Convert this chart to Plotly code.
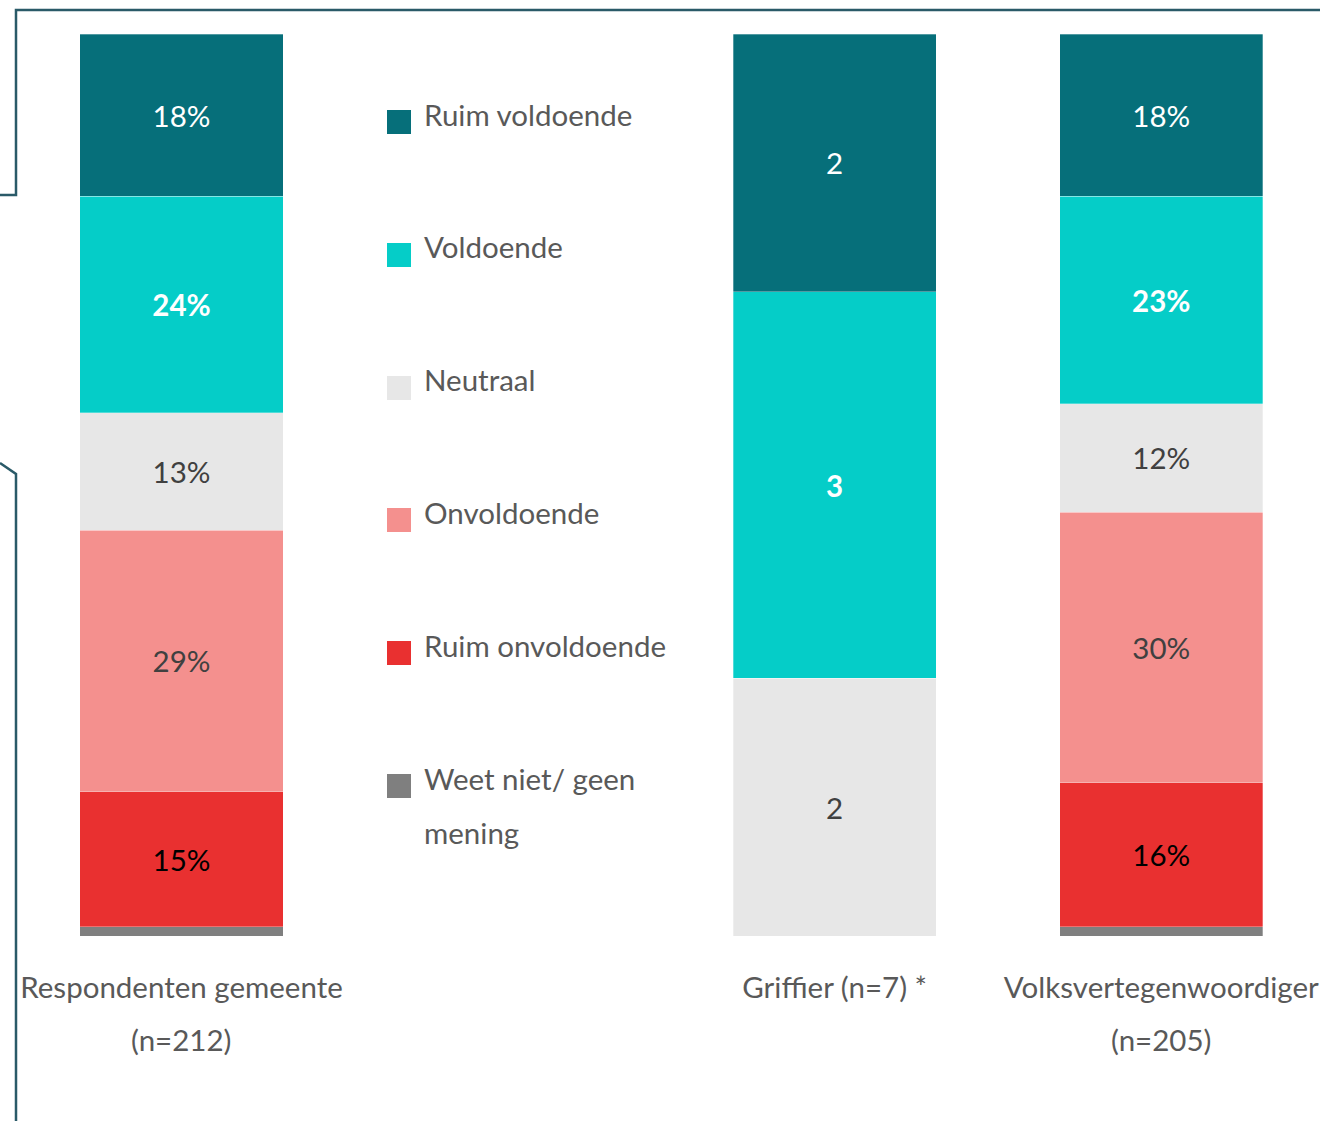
import plotly.graph_objects as go

# Respondent groups (x positions 0, 2, 3; slot 1 holds the legend)
groups = ["Respondenten gemeente", "Griffier (n=7) *", "Volksvertegenwoordiger"]
group_sub = ["(n=212)", "", "(n=205)"]
group_pos = [0, 2, 3]

categories = ["Ruim voldoende", "Voldoende", "Neutraal", "Onvoldoende",
              "Ruim onvoldoende", "Weet niet/ geen mening"]
legend_lines = [["Ruim voldoende"], ["Voldoende"], ["Neutraal"], ["Onvoldoende"],
                ["Ruim onvoldoende"], ["Weet niet/ geen", "mening"]]

# Percentages for the two large groups
gemeente = [18, 24, 13, 29, 15, 1]
volksvert = [18, 23, 12, 30, 16, 1]
# Griffier answers are counts (n=7)
griffier_counts = [2, 3, 2, 0, 0, 0]

colors = ["#066f7a", "#05cdc8", "#e7e7e7", "#f4908e", "#e93030", "#7f7f7f"]
label_colors = ["#ffffff", "#ffffff", "#404040", "#404040", "#000000", "#ffffff"]
bold = [False, True, False, False, False, False]

W, H = 1320, 1121
ML, MR, MT, MB = 18, 0, 34, 185
PW, PH = W - ML - MR, H - MT - MB

FONT = "Lato"
FS = 29.5
TXT = "#595959"

n_griffier = sum(griffier_counts)
fig = go.Figure()
# Stack from the bottom up: last category first
for i in reversed(range(len(categories))):
    g_share = griffier_counts[i] / n_griffier * 100
    vals = [gemeente[i], g_share, volksvert[i]]
    labels = [f"{gemeente[i]}%", str(griffier_counts[i]) if griffier_counts[i] else "",
              f"{volksvert[i]}%"]
    if i == 5:
        labels = ["", "", ""]
    if bold[i]:
        labels = [f"<b>{t}</b>" if t else "" for t in labels]
    fig.add_trace(go.Bar(
        x=group_pos, y=vals, name=categories[i], text=labels,
        textposition="inside", insidetextanchor="middle", textangle=0,
        constraintext="none",
        textfont=dict(family=FONT, size=FS, color=label_colors[i]),
        marker=dict(color=colors[i], line=dict(color="rgba(255,255,255,0.5)", width=0.6)),
        showlegend=False, hoverinfo="skip",
    ))

def px_x(p):
    return (p - ML) / PW

def px_y(p):
    return (H - MB - p) / PH

# Legend drawn in the empty slot between the first and second bar
legend_y = [114, 247, 380, 512, 645, 778]
line_step = 54
for i, lines in enumerate(legend_lines):
    cy = legend_y[i] + 8
    fig.add_shape(type="rect", xref="paper", yref="paper",
                  x0=px_x(387), x1=px_x(411), y0=px_y(cy - 12), y1=px_y(cy + 12),
                  fillcolor=colors[i], line=dict(width=0))
    for k, t in enumerate(lines):
        fig.add_annotation(xref="paper", yref="paper", x=px_x(422),
                           y=px_y(legend_y[i] + k * line_step),
                           text=t, showarrow=False, xanchor="left", yanchor="middle",
                           font=dict(family=FONT, size=FS, color=TXT))

# Second line of the group labels
for pos, sub in zip(group_pos, group_sub):
    if sub:
        fig.add_annotation(xref="x", yref="paper", x=pos, y=px_y(1039),
                           text=sub, showarrow=False, yanchor="middle",
                           font=dict(family=FONT, size=FS, color=TXT))

# Surrounding frame lines
def path(points):
    return "M " + " L ".join(f"{px_x(a)},{px_y(b)}" for a, b in points)

frame = dict(color="#2a5a68", width=2.5)
fig.add_shape(type="path", xref="paper", yref="paper",
              path=path([(1320, 10), (16, 10), (16, 195), (0, 195)]), line=frame)
fig.add_shape(type="path", xref="paper", yref="paper",
              path=path([(0, 463), (16, 474), (16, 1121)]), line=frame)

fig.update_layout(
    width=W, height=H, margin=dict(l=ML, r=MR, t=MT, b=MB),
    barmode="stack", bargap=0.378,
    paper_bgcolor="white", plot_bgcolor="white",
    font=dict(family=FONT, size=FS, color=TXT),
    xaxis=dict(range=[-0.5006, 3.486], tickvals=group_pos, ticktext=groups,
               showgrid=False, zeroline=False, showline=False, ticks="",
               ticklabelstandoff=31, tickfont=dict(family=FONT, size=FS, color=TXT)),
    yaxis=dict(range=[0, 100], visible=False),
)

fig.write_html("out.html")
